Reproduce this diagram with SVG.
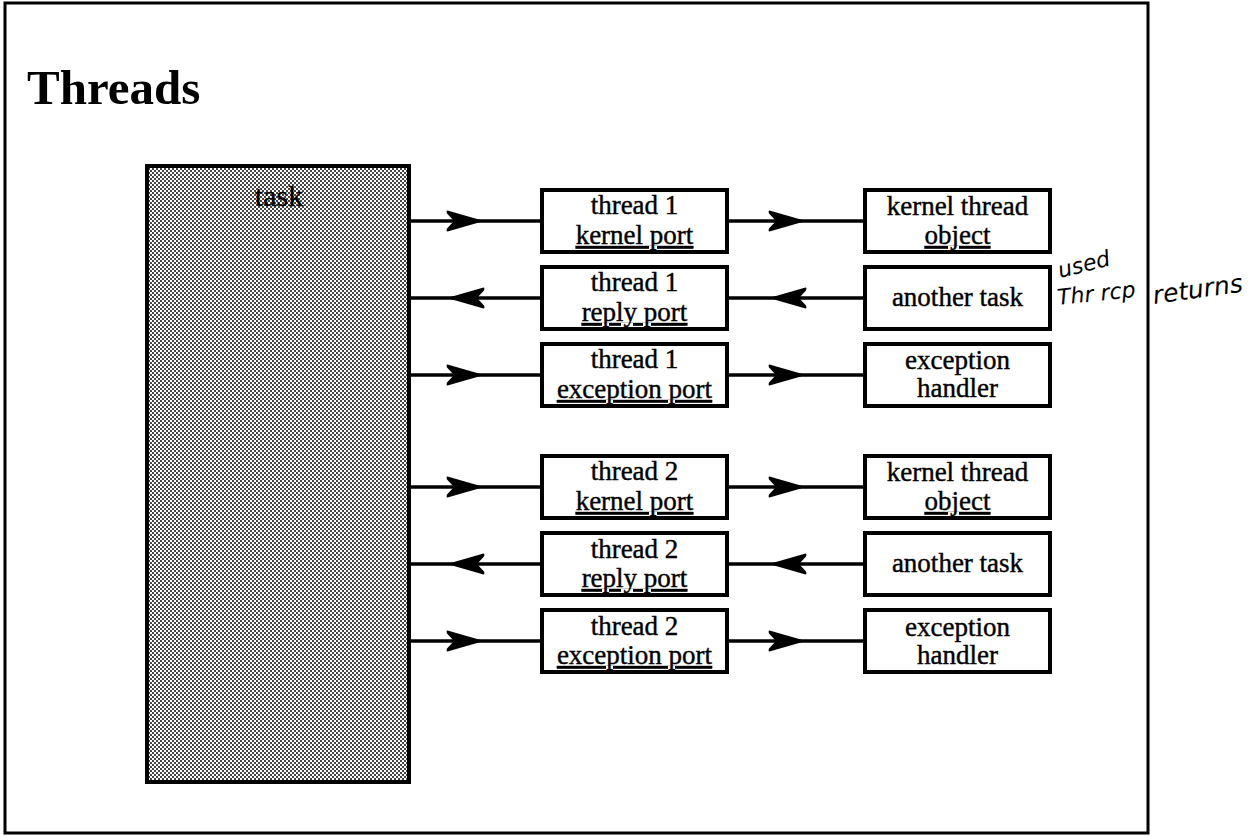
<svg xmlns="http://www.w3.org/2000/svg" width="1252" height="836" viewBox="0 0 1252 836">
  <defs>
    <pattern id="dots" width="4" height="4" patternUnits="userSpaceOnUse">
      <rect width="4" height="4" fill="#ffffff"/>
      <rect x="0" y="0" width="2" height="2" fill="#444"/>
      <rect x="2" y="2" width="2" height="2" fill="#444"/>
    </pattern>
    <marker id="ah" markerUnits="userSpaceOnUse" viewBox="0 0 38 22" refX="38" refY="11" markerWidth="38" markerHeight="22" orient="auto">
      <path d="M38,11 L1.5,0.5 Q0,0.5 1,3.5 L8,11 L1,18.5 Q0,21.5 1.5,21.5 Z" fill="#000"/>
    </marker>
  </defs>
  <style>
    .frame { fill: none; stroke: #000; stroke-width: 3; }
    .box { fill: #fff; stroke: #000; stroke-width: 4; }
    .task { fill: url(#dots); stroke: #000; stroke-width: 4; }
    .conn { fill: none; stroke: #000; stroke-width: 3.5; marker-mid: url(#ah); }
    .lbl { font-family: "Liberation Serif", "Times New Roman", serif; font-size: 27px; fill: #000; stroke: #000; stroke-width: 0.4; text-anchor: middle; }
    .ul { text-decoration: underline; }
    .title { font-family: "Liberation Serif", "Times New Roman", serif; font-size: 49px; font-weight: bold; fill: #000; }
    .hand { font-family: "DejaVu Sans", sans-serif; font-style: italic; font-size: 22px; fill: #000; }
  </style>
  <rect width="1252" height="836" fill="#fff"/>
  <rect class="frame" x="5" y="3" width="1143" height="830"/>
  <text class="title" x="27" y="104">Threads</text>

  <g id="connectors">
    <path class="conn" d="M409,221 H484 H542"/>
    <path class="conn" d="M727,221 H806 H865"/>
    <path class="conn" d="M542,298 H447 H409"/>
    <path class="conn" d="M865,298 H769 H727"/>
    <path class="conn" d="M409,375 H484 H542"/>
    <path class="conn" d="M727,375 H806 H865"/>
    <path class="conn" d="M409,487 H484 H542"/>
    <path class="conn" d="M727,487 H806 H865"/>
    <path class="conn" d="M542,564 H447 H409"/>
    <path class="conn" d="M865,564 H769 H727"/>
    <path class="conn" d="M409,641 H484 H542"/>
    <path class="conn" d="M727,641 H806 H865"/>
  </g>

  <g id="task">
    <rect class="task" x="147" y="166" width="262" height="616"/>
    <text class="lbl" x="279" y="206" style="font-size:30px">task</text>
  </g>

  <g id="t1-kernel-port">
    <rect class="box" x="542" y="190" width="185" height="62"/>
    <text class="lbl" x="634.5" y="214">thread 1</text>
    <text class="lbl ul" x="634.5" y="244">kernel port</text>
  </g>
  <g id="t1-kernel-object">
    <rect class="box" x="865" y="190" width="185" height="62"/>
    <text class="lbl" x="957.5" y="215">kernel thread</text>
    <text class="lbl ul" x="957.5" y="244">object</text>
  </g>
  <g id="t1-reply-port">
    <rect class="box" x="542" y="267" width="185" height="62"/>
    <text class="lbl" x="634.5" y="291">thread 1</text>
    <text class="lbl ul" x="634.5" y="321">reply port</text>
  </g>
  <g id="t1-another-task">
    <rect class="box" x="865" y="267" width="185" height="62"/>
    <text class="lbl" x="957.5" y="306">another task</text>
  </g>
  <g id="t1-exception-port">
    <rect class="box" x="542" y="344" width="185" height="62"/>
    <text class="lbl" x="634.5" y="368">thread 1</text>
    <text class="lbl ul" x="634.5" y="398">exception port</text>
  </g>
  <g id="t1-exception-handler">
    <rect class="box" x="865" y="344" width="185" height="62"/>
    <text class="lbl" x="957.5" y="369">exception</text>
    <text class="lbl" x="957.5" y="397">handler</text>
  </g>

  <g id="t2-kernel-port">
    <rect class="box" x="542" y="456" width="185" height="62"/>
    <text class="lbl" x="634.5" y="480">thread 2</text>
    <text class="lbl ul" x="634.5" y="510">kernel port</text>
  </g>
  <g id="t2-kernel-object">
    <rect class="box" x="865" y="456" width="185" height="62"/>
    <text class="lbl" x="957.5" y="481">kernel thread</text>
    <text class="lbl ul" x="957.5" y="510">object</text>
  </g>
  <g id="t2-reply-port">
    <rect class="box" x="542" y="533" width="185" height="62"/>
    <text class="lbl" x="634.5" y="558">thread 2</text>
    <text class="lbl ul" x="634.5" y="587">reply port</text>
  </g>
  <g id="t2-another-task">
    <rect class="box" x="865" y="533" width="185" height="62"/>
    <text class="lbl" x="957.5" y="572">another task</text>
  </g>
  <g id="t2-exception-port">
    <rect class="box" x="542" y="610" width="185" height="62"/>
    <text class="lbl" x="634.5" y="635">thread 2</text>
    <text class="lbl ul" x="634.5" y="664">exception port</text>
  </g>
  <g id="t2-exception-handler">
    <rect class="box" x="865" y="610" width="185" height="62"/>
    <text class="lbl" x="957.5" y="636">exception</text>
    <text class="lbl" x="957.5" y="664">handler</text>
  </g>

  <g id="annotation">
    <text class="hand" x="1060" y="278" transform="rotate(-14 1060 278)">used</text>
    <text class="hand" x="1058" y="305" transform="rotate(-6 1058 305)">Thr rcp</text>
    <text class="hand" x="1154" y="304" style="font-size:25px" transform="rotate(-8 1154 304)">returns</text>
  </g>
</svg>
